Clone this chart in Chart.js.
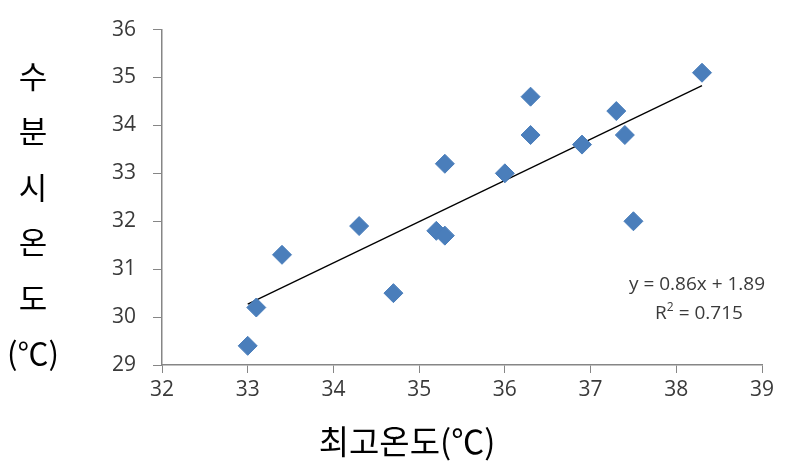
<!DOCTYPE html>
<html>
<head>
<meta charset="utf-8">
<script src="https://cdn.jsdelivr.net/npm/chart.js@4/dist/chart.umd.min.js"></script>
<style>
  html, body { margin: 0; padding: 0; background: #fff; }
  #wrap { position: relative; width: 797px; height: 465px; overflow: hidden; }
  #c { position: absolute; left: 0; top: 0; }
  #ytitle { position: absolute; left: 0; top: 47px; width: 66px; text-align: center;
    font-family: "Noto Sans CJK KR", sans-serif; font-size: 31px; line-height: 55.4px; color: #000; }
  #xtitle { position: absolute; left: 257px; width: 300px; top: 418px; text-align: center;
    font-family: "Noto Sans CJK KR", sans-serif; font-size: 33px; line-height: 44px; color: #000; }
  .eq { position: absolute; font-family: "Open Sans", "Liberation Sans", sans-serif; font-size: 19px;
    color: #3a3a3a; white-space: nowrap; text-align: center; width: 200px; }
  .eq sup { font-size: 12px; vertical-align: 8px; line-height: 0; }
</style>
</head>
<body>
<div id="wrap">
  <canvas id="c" width="797" height="465"></canvas>
  <div id="ytitle">수<br>분<br>시<br>온<br>도<br>(℃)</div>
  <div id="xtitle">최고온도(℃)</div>
  <div class="eq" id="eq1" style="left:597px; top:270px;">y = 0.86x + 1.89</div>
  <div class="eq" id="eq2" style="left:599px; top:299px;">R<sup>2</sup> = 0.715</div>
</div>
<script>
// Data
const maxTemp   = [33.0, 33.1, 33.4, 34.3, 34.7, 35.2, 35.3, 35.3, 36.0, 36.3, 36.3, 36.9, 37.3, 37.4, 37.5, 38.3];
const pollTemp  = [29.4, 30.2, 31.3, 31.9, 30.5, 31.8, 31.7, 33.2, 33.0, 34.6, 33.8, 33.6, 34.3, 33.8, 32.0, 35.1];
const trendX    = [33.0, 38.3];
const trendY    = [30.27, 34.83];
const xTickVals = [32, 33, 34, 35, 36, 37, 38, 39];
const yTickVals = [29, 30, 31, 32, 33, 34, 35, 36];

const points = maxTemp.map((x, i) => ({ x: x, y: pollTemp[i] }));
const trend  = trendX.map((x, i) => ({ x: x, y: trendY[i] }));

const axisColor = '#868686';
const tickFont = { family: '"Open Sans", "Liberation Sans", sans-serif', size: 21 };

new Chart(document.getElementById('c'), {
  type: 'scatter',
  data: {
    datasets: [
      {
        label: '수분시온도',
        data: points,
        pointStyle: 'rectRot',
        pointRadius: 9.5,
        pointHoverRadius: 9.5,
        backgroundColor: '#4a7ebb',
        borderColor: '#4a7ebb',
        borderWidth: 1,
        order: 1
      },
      {
        label: 'trend',
        type: 'line',
        data: trend,
        showLine: true,
        borderColor: '#000000',
        borderWidth: 1.3,
        pointRadius: 0,
        fill: false,
        order: 2
      }
    ]
  },
  options: {
    responsive: false,
    animation: false,
    devicePixelRatio: 1,
    layout: { padding: { left: 100, right: 35, top: 22, bottom: 0 } },
    plugins: { legend: { display: false }, tooltip: { enabled: false } },
    scales: {
      x: {
        type: 'linear',
        min: 32, max: 39,
        afterBuildTicks: (s) => { s.ticks = xTickVals.map(v => ({ value: v })); },
        afterFit: (s) => { s.height = 100; },
        ticks: { font: tickFont, color: '#3a3a3a', padding: 4 },
        grid: { display: true, drawOnChartArea: false, drawTicks: true, tickLength: 8, color: axisColor },
        border: { display: true, color: axisColor, width: 1.5 }
      },
      y: {
        type: 'linear',
        min: 29, max: 36,
        afterBuildTicks: (s) => { s.ticks = yTickVals.map(v => ({ value: v })); },
        afterFit: (s) => { s.width = 62; },
        ticks: { font: tickFont, color: '#3a3a3a', padding: 17 },
        grid: { display: true, drawOnChartArea: false, drawTicks: true, tickLength: 9, color: axisColor },
        border: { display: true, color: axisColor, width: 1.5 }
      }
    }
  }
});
</script>
</body>
</html>
